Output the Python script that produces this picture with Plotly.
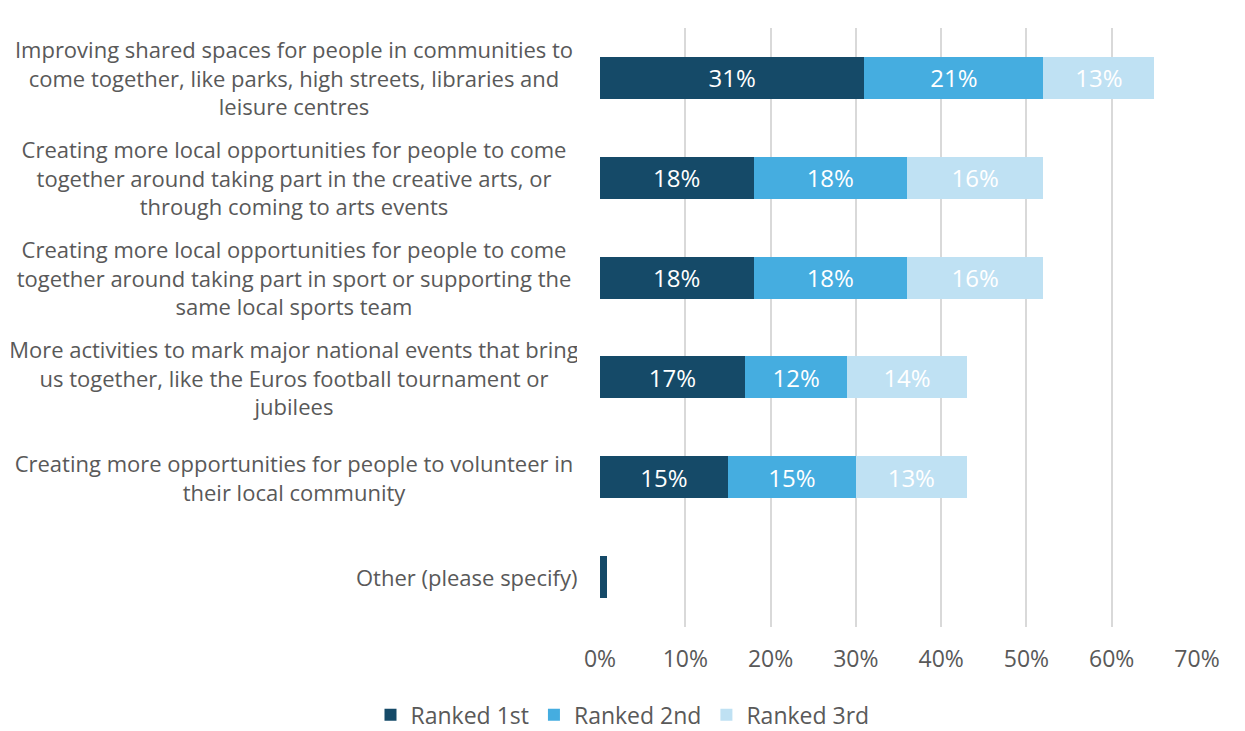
import plotly.graph_objects as go

categories = [
    "Improving shared spaces for people in communities to<br>come together, like parks, high streets, libraries and<br>leisure centres",
    "Creating more local opportunities for people to come<br>together around taking part in the creative arts, or<br>through coming to arts events",
    "Creating more local opportunities for people to come<br>together around taking part in sport or supporting the<br>same local sports team",
    "More activities to mark major national events that bring<br>us together, like the Euros football tournament or<br>jubilees",
    "Creating more opportunities for people to volunteer in<br>their local community",
    "Other (please specify)",
]
ranked_1st = [31, 18, 18, 17, 15, 0.8]
ranked_2nd = [21, 18, 18, 12, 15, 0]
ranked_3rd = [13, 16, 16, 14, 13, 0]
series_names = ["Ranked 1st", "Ranked 2nd", "Ranked 3rd"]
colors = ["#154a68", "#45ade0", "#bfe1f3"]
tick_vals = [0, 10, 20, 30, 40, 50, 60, 70]
tick_text = ["0%", "10%", "20%", "30%", "40%", "50%", "60%", "70%"]

FONT = "Open Sans"
GREY = "#595959"

fig = go.Figure()
for name, vals, col in zip(series_names, [ranked_1st, ranked_2nd, ranked_3rd], colors):
    fig.add_trace(go.Bar(
        name=name, y=categories, x=vals, orientation="h",
        marker=dict(color=col, line=dict(width=0)),
        text=[f"{v:.0f}%" if v >= 1 else "" for v in vals],
        textposition="inside", insidetextanchor="middle",
        textfont=dict(color="white", size=24, family=FONT),
        width=0.42, hoverinfo="x+name",
    ))

# category labels, centred multi-line text
for cat in categories:
    multi = "<br>" in cat
    fig.add_annotation(
        xref="paper", yref="y", x=-0.036, y=cat, text=cat,
        xanchor="right", yanchor="middle", align="center",
        width=566 if multi else None,
        showarrow=False,
        font=dict(size=22, color=GREY, family=FONT),
    )

fig.update_layout(
    barmode="stack",
    width=1245, height=731,
    margin=dict(l=600, r=48, t=28, b=104),
    paper_bgcolor="white", plot_bgcolor="white",
    font=dict(family=FONT, color=GREY, size=19),
    legend=dict(
        orientation="h", xref="container", yref="container",
        x=0.5, xanchor="center", y=0.022, yanchor="middle",
        font=dict(size=23, color=GREY, family=FONT),
        itemwidth=30, traceorder="normal",
    ),
    showlegend=True,
)
fig.update_xaxes(
    range=[0, 70], tickvals=tick_vals, ticktext=tick_text,
    showgrid=True, gridcolor="#d9d9d9", gridwidth=1.5,
    zeroline=False, showline=False, ticks="",
    tickfont=dict(size=23, color=GREY, family=FONT),
    ticklabelstandoff=16,
)
fig.update_yaxes(
    autorange="reversed", showticklabels=False, showgrid=False,
    zeroline=False, showline=False, ticks="",
)

fig.write_html("out.html")
